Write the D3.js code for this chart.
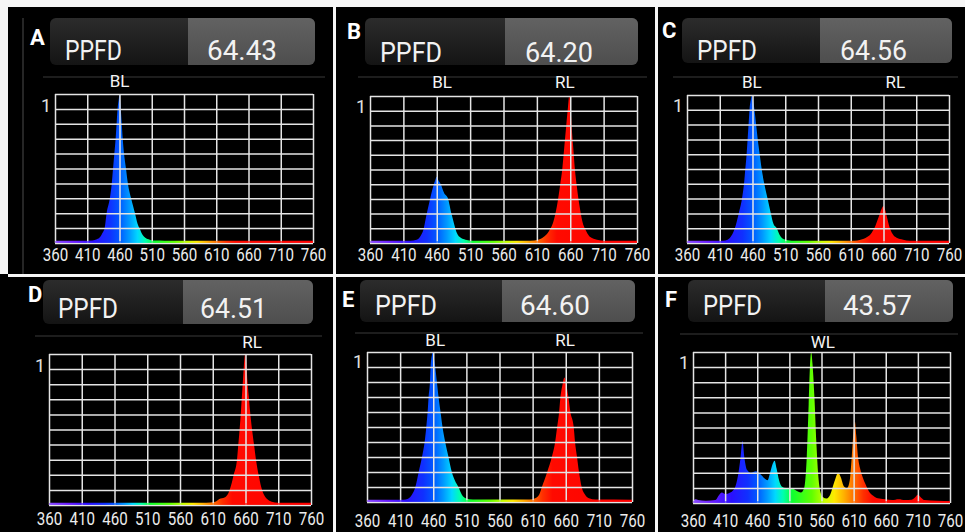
<!DOCTYPE html>
<html>
<head>
<meta charset="utf-8">
<script src="https://cdn.jsdelivr.net/npm/d3@7"></script>
<style>
  html, body { margin: 0; padding: 0; background: #000; }
  svg { display: block; }
  text { font-family: Roboto, "Liberation Sans", Arial, sans-serif; }
</style>
</head>
<body>
<svg id="chart" width="965" height="532"></svg>
<script>
// ---- data ----
const panelLetters = ["A", "B", "C", "D", "E", "F"];
const ppfdValues = ["64.43", "64.20", "64.56", "64.51", "64.60", "43.57"];
const wlTicks = [360, 410, 460, 510, 560, 610, 660, 710, 760];

// peak labels: [text, wavelength under the label centre]
const labelsA = [["BL", 460]];
const labelsB = [["BL", 468], ["RL", 652]];
const labelsC = [["BL", 459], ["RL", 678]];
const labelsD = [["RL", 670]];
const labelsE = [["BL", 463], ["RL", 659]];
const labelsF = [["WL", 562]];

// spectra: [wavelength nm, relative intensity]
const specA = [[360,0.015],[400,0.015],[418,0.017],[425,0.025],[430,0.04],[434,0.07],[437,0.1],[440,0.2],[445,0.3],[448,0.4],[450,0.5],[452,0.6],[454,0.7],[455.5,0.8],[457,0.9],[459,0.97],[460,1.0],[461,0.96],[462,0.9],[463.5,0.8],[465,0.7],[467,0.6],[470,0.5],[473,0.4],[478,0.3],[484,0.2],[488,0.13],[491,0.1],[495,0.06],[500,0.035],[507,0.022],[515,0.016],[530,0.015],[760,0.015]];
const specB = [[360,0.015],[420,0.015],[430,0.022],[436,0.05],[440,0.09],[445,0.2],[450,0.3],[455,0.39],[458,0.43],[460,0.45],[462,0.43],[466,0.4],[471,0.34],[477,0.3],[482,0.2],[486,0.13],[490,0.07],[496,0.035],[503,0.022],[515,0.015],[600,0.015],[612,0.022],[620,0.04],[628,0.08],[635,0.15],[640,0.25],[645,0.4],[648,0.5],[651,0.65],[654,0.8],[656.5,0.92],[658.5,1.0],[660.5,0.92],[662,0.8],[664.5,0.65],[667,0.5],[670,0.38],[674,0.25],[678,0.15],[684,0.08],[690,0.04],[700,0.022],[712,0.015],[760,0.015]];
const specC = [[360,0.015],[415,0.015],[422,0.022],[428,0.05],[433,0.1],[439,0.2],[444,0.3],[447,0.4],[449,0.5],[451,0.6],[452.5,0.7],[454,0.8],[455.5,0.9],[458,0.98],[459,1.0],[460.5,0.97],[463,0.9],[465.5,0.8],[468,0.7],[471,0.6],[474,0.5],[478,0.4],[483,0.3],[488,0.2],[492,0.13],[497,0.1],[502,0.05],[508,0.025],[520,0.016],[615,0.016],[625,0.022],[635,0.04],[642,0.07],[648,0.12],[653,0.18],[657,0.23],[660,0.25],[662,0.23],[665,0.18],[669,0.11],[674,0.06],[680,0.035],[690,0.022],[700,0.015],[760,0.015]];
const specD = [[360,0.015],[600,0.015],[614,0.022],[620,0.04],[628,0.05],[634,0.08],[638,0.13],[642,0.2],[647,0.3],[649,0.4],[651,0.5],[653,0.62],[654.5,0.72],[656,0.82],[657.5,0.92],[659.5,1.0],[661.5,0.92],[663,0.82],[665,0.72],[667,0.62],[670,0.5],[673,0.4],[676,0.3],[680,0.2],[684,0.12],[688,0.07],[693,0.04],[700,0.022],[710,0.015],[760,0.015]];
const specE = [[360,0.015],[415,0.015],[422,0.022],[428,0.05],[433,0.1],[438,0.2],[443,0.3],[447,0.4],[449.5,0.5],[451.5,0.6],[453,0.7],[455,0.8],[456,0.9],[458,0.98],[459,1.0],[460.5,0.97],[463,0.9],[465.5,0.8],[468,0.7],[471,0.6],[474,0.5],[478,0.4],[483,0.3],[488,0.2],[493,0.14],[498,0.1],[503,0.05],[509,0.025],[520,0.016],[605,0.016],[614,0.025],[620,0.05],[624,0.1],[632,0.2],[639,0.3],[644,0.4],[647,0.5],[650,0.6],[652,0.7],[655,0.78],[658,0.83],[661,0.78],[664,0.7],[667,0.6],[672,0.5],[674,0.4],[677,0.3],[680,0.2],[684,0.1],[689,0.05],[695,0.025],[705,0.016],[760,0.015]];
const specF = [[360,0.015],[364,0.025],[368,0.02],[380,0.015],[395,0.02],[400,0.05],[405,0.07],[410,0.06],[418,0.07],[425,0.1],[430,0.18],[434,0.3],[437,0.41],[440,0.3],[444,0.22],[450,0.2],[458,0.21],[465,0.19],[472,0.16],[476,0.15],[480,0.2],[484,0.26],[487,0.28],[490,0.23],[494,0.15],[498,0.11],[505,0.1],[512,0.1],[518,0.09],[524,0.075],[528,0.07],[533,0.1],[537,0.3],[540,0.65],[542,0.9],[544,1.0],[546,0.92],[549,0.7],[552,0.4],[555,0.18],[558,0.08],[562,0.04],[568,0.03],[574,0.06],[580,0.14],[586,0.2],[590,0.17],[595,0.11],[600,0.1],[604,0.15],[607,0.3],[610,0.48],[612,0.54],[614,0.45],[617,0.3],[620,0.23],[625,0.16],[630,0.11],[635,0.07],[640,0.05],[645,0.035],[650,0.03],[660,0.025],[670,0.02],[680,0.025],[690,0.02],[700,0.022],[705,0.035],[710,0.055],[714,0.04],[720,0.02],[740,0.015],[760,0.012]];

const spectra = [specA, specB, specC, specD, specE, specF];
const peakLabels = [labelsA, labelsB, labelsC, labelsD, labelsE, labelsF];

// wavelength -> display colour, used as the fill gradient
const wlColors = [[360,"#8a4cff"],[390,"#6a1cff"],[420,"#2a10ff"],[445,"#1030ff"],[460,"#0058ff"],[475,"#0098ff"],[488,"#00d8ff"],[500,"#00ffb0"],[515,"#10ff30"],[545,"#60ff00"],[565,"#c8ff00"],[580,"#ffe800"],[595,"#ffb000"],[610,"#ff7000"],[625,"#ff3000"],[640,"#ff0a00"],[760,"#ff0000"]];

// ---- layout of the six screenshots ----
const layout = [
  {hx0:50, hx1:315, hy0:18, hy1:65, vx:188, lx:30, ly:45, px:65, py:60, vtx:207, pw:57, vw:70, sepY:77, sx0:43, sx1:325, labY:87, l:55, r:313, t:94, b:243, oneY:112, tickY:261},
  {hx0:365, hx1:638, hy0:18, hy1:65, vx:505, lx:347, ly:39, px:380, py:62, vtx:525, pw:62, vw:68, sepY:77, sx0:358, sx1:647, labY:88, l:370, r:637, t:96, b:243, oneY:113, tickY:261},
  {hx0:682, hx1:952, hy0:18, hy1:63, vx:820, lx:662, ly:38, px:697, py:60, vtx:840, pw:60, vw:67, sepY:77, sx0:673, sx1:958, labY:88, l:687, r:949, t:95, b:243, oneY:112, tickY:261},
  {hx0:43, hx1:313, hy0:280, hy1:324, vx:183, lx:28, ly:302, px:58, py:318, vtx:200, pw:60, vw:67, sepY:336, sx0:35, sx1:322, labY:348, l:49, r:311, t:354, b:505, oneY:372, tickY:525},
  {hx0:360, hx1:635, hy0:280, hy1:322, vx:502, lx:342, ly:307, px:375, py:315, vtx:520, pw:62, vw:70, sepY:333, sx0:355, sx1:643, labY:346, l:367, r:632, t:352, b:502, oneY:368, tickY:527},
  {hx0:688, hx1:953, hy0:280, hy1:322, vx:825, lx:665, ly:307, px:703, py:315, vtx:843, pw:59, vw:69, sepY:334, sx0:680, sx1:958, labY:348, l:693, r:950, t:352, b:503, oneY:369, tickY:527}
];

const svg = d3.select("#chart");
const defs = svg.append("defs");

svg.append("rect").attr("width", 965).attr("height", 532).attr("fill", "#000");

const hdrGrad = defs.append("linearGradient").attr("id", "hdr").attr("x1", 0).attr("x2", 0).attr("y1", 0).attr("y2", 1);
hdrGrad.append("stop").attr("offset", 0).attr("stop-color", "#2c2c2c");
hdrGrad.append("stop").attr("offset", 1).attr("stop-color", "#141414");
const valGrad = defs.append("linearGradient").attr("id", "val").attr("x1", 0).attr("x2", 0).attr("y1", 0).attr("y2", 1);
valGrad.append("stop").attr("offset", 0).attr("stop-color", "#626262");
valGrad.append("stop").attr("offset", 1).attr("stop-color", "#4e4e4e");

layout.forEach((p, i) => {
  const g = svg.append("g");
  const x = d3.scaleLinear().domain([360, 760]).range([p.l, p.r]);
  const y = d3.scaleLinear().domain([0, 1]).range([p.b, p.t]);

  // header bar
  g.append("rect").attr("x", p.hx0).attr("y", p.hy0)
    .attr("width", p.hx1 - p.hx0).attr("height", p.hy1 - p.hy0)
    .attr("rx", 6).attr("fill", "url(#hdr)");
  g.append("rect").attr("x", p.vx).attr("y", p.hy0)
    .attr("width", p.hx1 - p.vx).attr("height", p.hy1 - p.hy0)
    .attr("rx", 6).attr("fill", "url(#val)");
  g.append("rect").attr("x", p.vx).attr("y", p.hy0)
    .attr("width", 10).attr("height", p.hy1 - p.hy0)
    .attr("fill", "url(#val)");
  g.append("line").attr("x1", p.sx0).attr("x2", p.sx1)
    .attr("y1", p.sepY).attr("y2", p.sepY)
    .attr("stroke", "#3a3a3a").attr("stroke-width", 1);

  g.append("text").attr("x", p.lx).attr("y", p.ly)
    .attr("font-family", "'Liberation Sans', Arial, sans-serif")
    .attr("font-weight", "bold").attr("font-size", 22).attr("fill", "#fff")
    .text(panelLetters[i]);
  g.append("text").attr("x", p.px).attr("y", p.py)
    .attr("font-size", 28).attr("fill", "#f2f2f2")
    .attr("textLength", p.pw).attr("lengthAdjust", "spacingAndGlyphs")
    .text("PPFD");
  g.append("text").attr("x", p.vtx).attr("y", p.py)
    .attr("font-size", 28).attr("fill", "#f2f2f2")
    .attr("textLength", p.vw).attr("lengthAdjust", "spacingAndGlyphs")
    .text(ppfdValues[i]);

  g.selectAll(".peak").data(peakLabels[i]).join("text")
    .attr("x", d => x(d[1])).attr("y", p.labY)
    .attr("text-anchor", "middle").attr("font-size", 17).attr("fill", "#f4f4f4")
    .text(d => d[0]);

  // spectrum fill coloured by wavelength
  const gid = "wl" + i;
  const grad = defs.append("linearGradient").attr("id", gid)
    .attr("gradientUnits", "userSpaceOnUse")
    .attr("x1", x(360)).attr("x2", x(760)).attr("y1", 0).attr("y2", 0);
  grad.selectAll("stop").data(wlColors).join("stop")
    .attr("offset", d => (d[0] - 360) / 400)
    .attr("stop-color", d => d[1]);

  const area = d3.area()
    .x(d => x(d[0])).y0(y(0)).y1(d => y(d[1]))
    .curve(d3.curveMonotoneX);
  g.append("path").datum(spectra[i]).attr("d", area).attr("fill", `url(#${gid})`);

  // grid via axes
  const gx = g.append("g").attr("transform", `translate(0,${p.b})`)
    .call(d3.axisBottom(x).tickValues(wlTicks).tickSize(-(p.b - p.t)).tickPadding(0));
  gx.select(".domain").remove();
  gx.selectAll(".tick line").attr("stroke", "#e4e4e4").attr("stroke-width", 1.5);
  gx.selectAll(".tick text")
    .attr("y", p.tickY - p.b).attr("dy", 0)
    .attr("transform", "scale(0.84,1)")
    .attr("font-family", "Roboto, 'Liberation Sans', Arial, sans-serif")
    .attr("font-size", 18).attr("fill", "#ececec");

  const gy = g.append("g").attr("transform", `translate(${p.l},0)`)
    .call(d3.axisLeft(y).tickValues(d3.range(11).map(k => k / 10))
      .tickSize(-(p.r - p.l)).tickFormat(""));
  gy.select(".domain").remove();
  gy.selectAll(".tick line").attr("stroke", "#e4e4e4").attr("stroke-width", 1.5);

  // pale coloured baseline over the bottom grid line
  g.append("line").attr("x1", x(360)).attr("x2", x(760))
    .attr("y1", y(0) - 1).attr("y2", y(0) - 1)
    .attr("stroke", `url(#${gid})`).attr("stroke-width", 2).attr("opacity", 0.65);

  g.append("text").attr("x", p.l - 4).attr("y", p.oneY)
    .attr("text-anchor", "end").attr("font-size", 18).attr("fill", "#e0e0e0")
    .text("1");
});

// white frame between the screenshots
const frame = "#f6f6f6";
svg.append("rect").attr("x", 0).attr("y", 0).attr("width", 965).attr("height", 7).attr("fill", frame);
svg.append("rect").attr("x", 0).attr("y", 0).attr("width", 8).attr("height", 274).attr("fill", frame);
svg.append("rect").attr("x", 8).attr("y", 274).attr("width", 957).attr("height", 3).attr("fill", frame);
svg.append("rect").attr("x", 333).attr("y", 7).attr("width", 3).attr("height", 525).attr("fill", frame);
svg.append("rect").attr("x", 655).attr("y", 7).attr("width", 3).attr("height", 525).attr("fill", frame);
// screen edge seen in the left screenshots
svg.append("line").attr("x1", 23).attr("x2", 23).attr("y1", 18).attr("y2", 274)
  .attr("stroke", "#333").attr("stroke-width", 1.5);
</script>
</body>
</html>
